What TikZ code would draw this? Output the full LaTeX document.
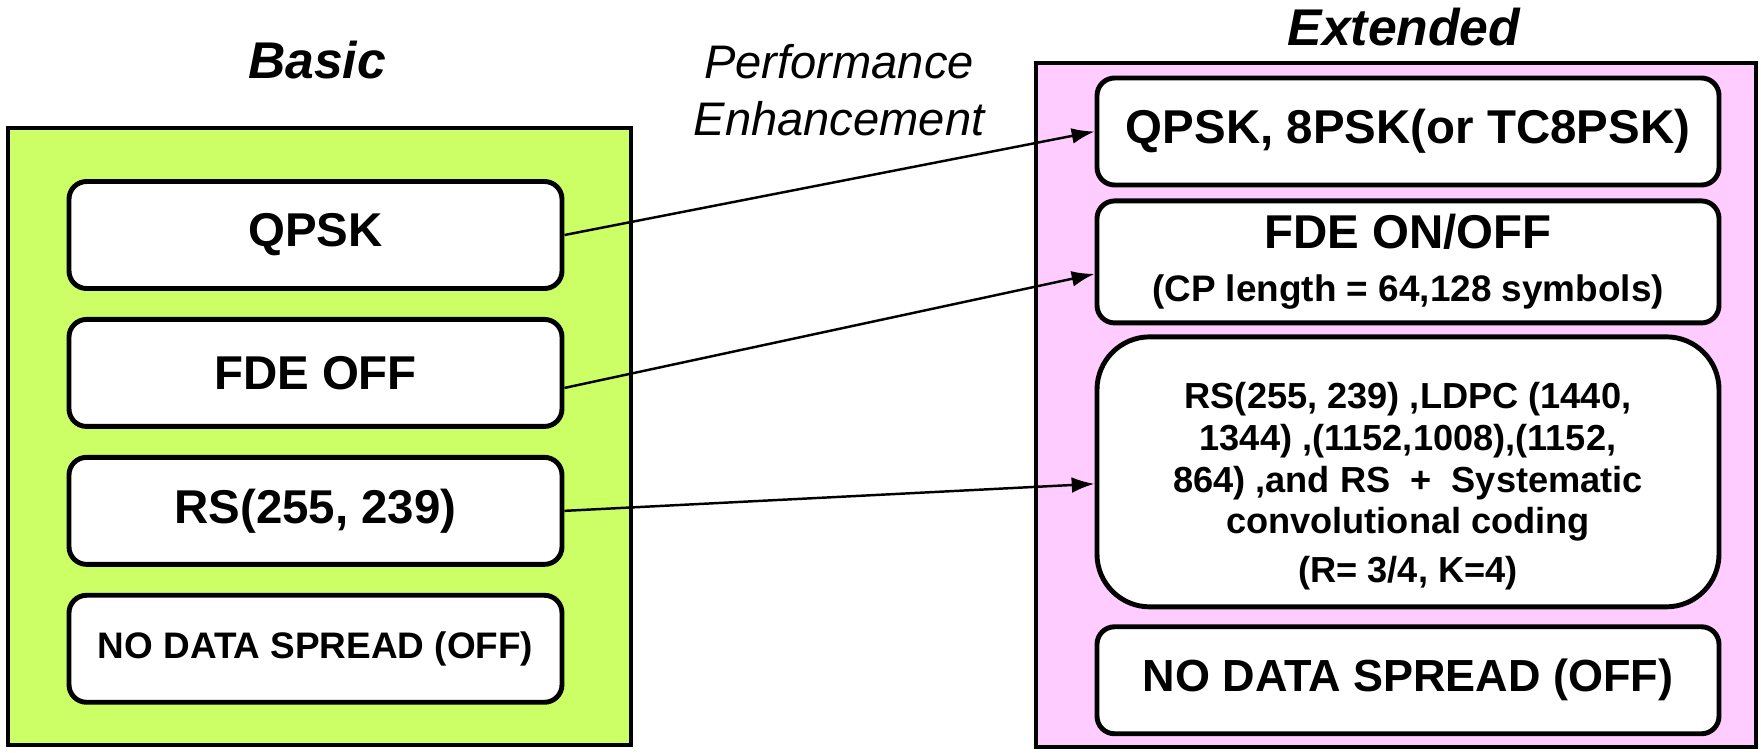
\documentclass[tikz,border=0pt]{standalone}
\usepackage{fontspec}
\setmainfont{Liberation Sans}
\usetikzlibrary{arrows.meta,positioning}
\definecolor{basicFill}{HTML}{CCFF66}
\definecolor{extFill}{HTML}{FFCCFF}

\begin{document}
\begin{tikzpicture}[
    >=Latex,
    panel/.style={draw, line width=1.4pt, inner sep=0pt},
    item/.style={draw, fill=white, line width=1.4pt, rounded corners=5pt,
                 inner sep=0pt, align=center,
                 font=\fontsize{13.5}{16}\selectfont\bfseries},
    title/.style={anchor=base, font=\fontsize{14.7}{17}\selectfont\bfseries\itshape},
    link/.style={line width=0.7pt,-{Latex[length=6.5pt,width=4.5pt]}},
]

\useasboundingbox[fill=white] (0,0) rectangle (17.61,7.52);

%-----------------------------------------------------------------------
% outer panels
\node[panel, fill=basicFill, minimum width=6.23cm, minimum height=6.17cm]
  (basic) at (3.195,3.155) {};
\node[panel, fill=extFill, minimum width=7.20cm, minimum height=6.84cm]
  (ext) at (13.96,3.47) {};

% titles
\node[title] (basicT) at (3.17,6.74) {Basic};
\node[title] (extT) at (14.04,7.07) {Extended};
\node[align=center, font=\fontsize{13.4}{16.2}\selectfont\itshape]
  (perf) at (8.39,6.62) {Performance\\Enhancement};

%-----------------------------------------------------------------------
% basic mode items
\node[item, minimum width=4.93cm, minimum height=1.07cm] (qpskL) at (3.155,5.17) {QPSK};
\node[item, minimum width=4.93cm, minimum height=1.07cm, below=0.26cm of qpskL] (fdeL) {FDE OFF};
\node[item, minimum width=4.93cm, minimum height=1.07cm, below=0.26cm of fdeL] (rsL) {RS(255, 239)};
\node[item, minimum width=4.93cm, minimum height=1.07cm, below=0.26cm of rsL,
      font=\fontsize{10.5}{12.6}\selectfont\bfseries] (spreadL) {NO DATA SPREAD (OFF)};

%-----------------------------------------------------------------------
% extended mode items
\node[item, minimum width=6.22cm, minimum height=1.07cm] (qpskR) at (14.08,6.205)
  {QPSK, 8PSK(or TC8PSK)};
\node[item, minimum width=6.22cm, minimum height=1.22cm, below=0.11cm of qpskR] (fdeR)
  {FDE ON/OFF\\[-1pt]{\fontsize{10.5}{12.6}\selectfont (CP length = 64,128 symbols)}};
\node[item, minimum width=6.22cm, minimum height=2.70cm, below=0.09cm of fdeR,
      rounded corners=15pt, font=\fontsize{10.3}{11.9}\selectfont\bfseries] (codeR)
  {\rule{0pt}{0.55cm}RS(255, 239) ,LDPC (1440,\\ 1344) ,(1152,1008),(1152,\\
   864) ,and RS \ + \ Systematic\\ convolutional coding\\[2pt] (R= 3/4, K=4)};
\node[item, minimum width=6.22cm, minimum height=1.07cm, below=0.15cm of codeR,
      font=\fontsize{12.8}{15}\selectfont\bfseries] (spreadR) {NO DATA SPREAD (OFF)};

%-----------------------------------------------------------------------
% enhancement links
\draw[link] (qpskL.east) -- (qpskR.west);
\draw[link] ([yshift=-0.15cm]fdeL.east) -- ([yshift=-0.12cm]fdeR.west);
\draw[link] (rsL.east) -- ([yshift=-0.12cm]codeR.west);

\end{tikzpicture}
\end{document}
